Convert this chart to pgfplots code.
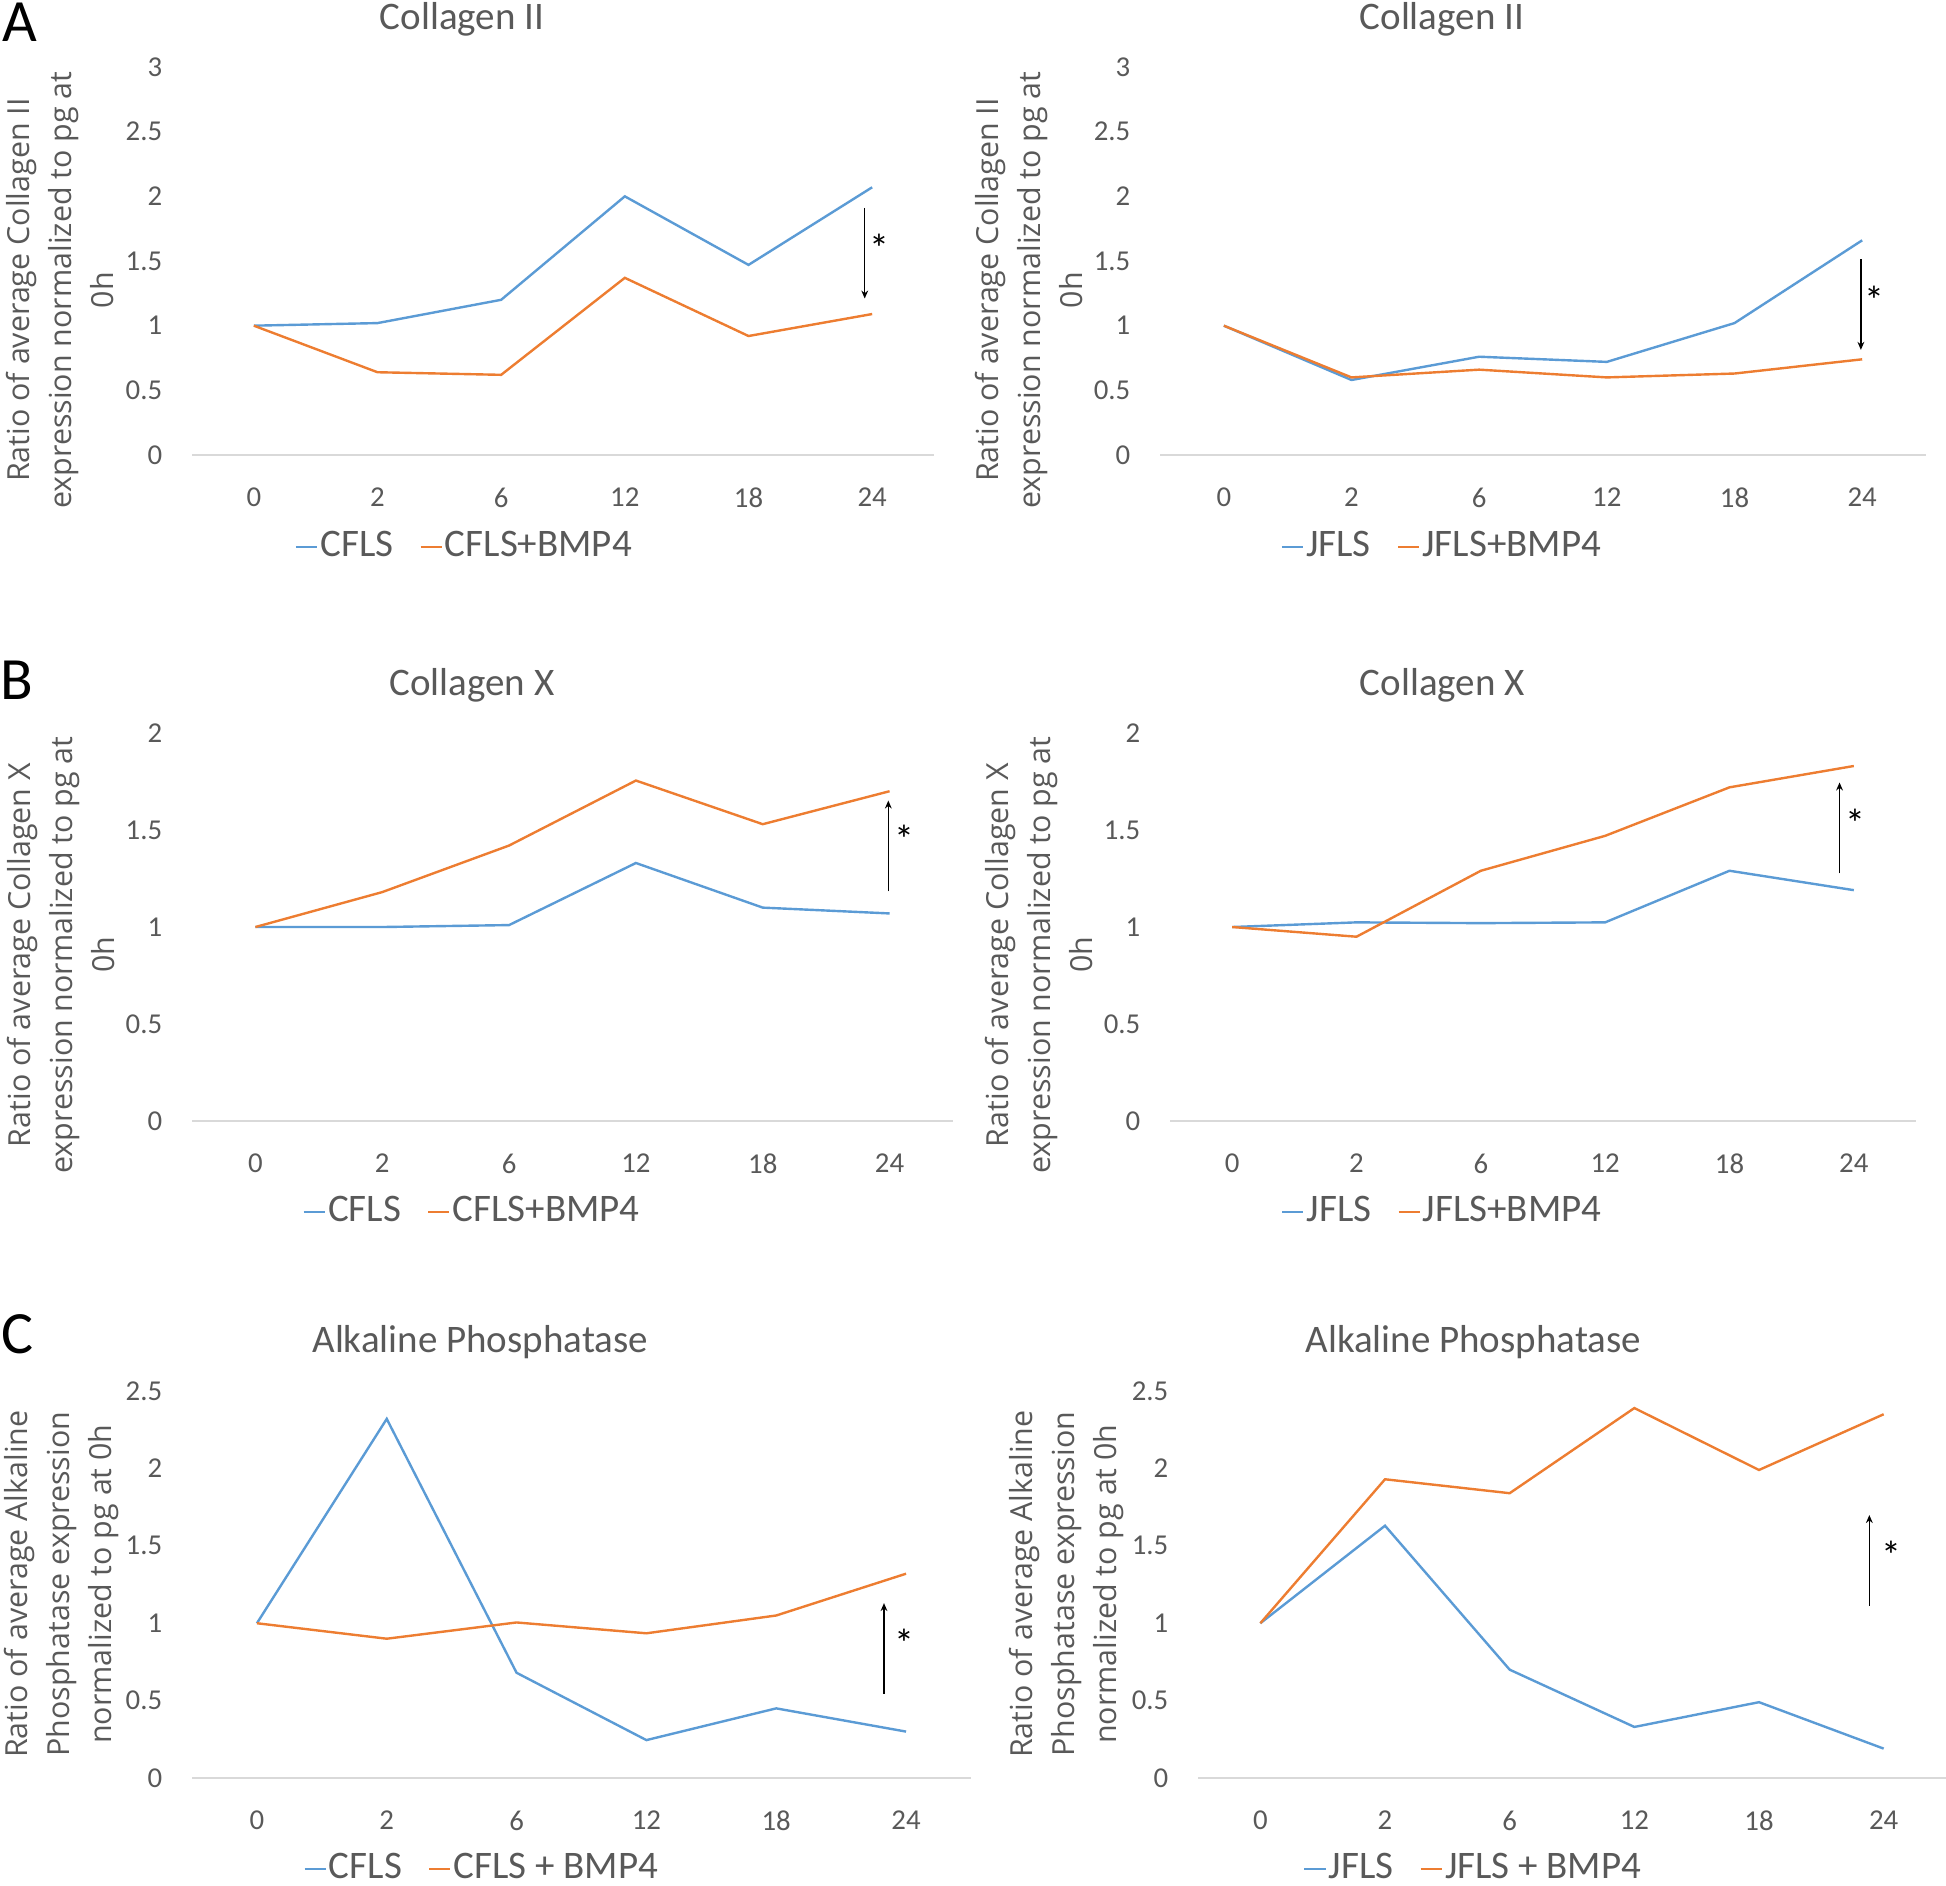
\documentclass[border=0pt]{standalone}
\usepackage{fontspec}
\setmainfont{Carlito}
\newfontfamily\opensans{Open Sans}
\usepackage{pgfplots}
\pgfplotsset{compat=1.18}
\usetikzlibrary{arrows.meta}

\definecolor{xlblue}{HTML}{5B9BD5}
\definecolor{xlorange}{HTML}{ED7D31}
\definecolor{xltext}{HTML}{595959}
\definecolor{xlaxis}{HTML}{D9D9D9}

\tikzset{sig/.style={line width=0.33pt, -{Stealth[length=2pt, width=1.7pt]}}}

\pgfplotsset{
  every axis title/.style={font=\fontsize{9.75}{11}\selectfont, text=xltext, anchor=center},
  panel/.style={
    anchor=south west, scale only axis, clip=false,
    xmin=-0.5, xmax=5.5, ymin=0,
    xtick={0,...,5}, xticklabels={0,2,6,12,18,24},
    ytick distance=0.5,
    axis lines*=left,
    y axis line style={draw=none},
    x axis line style={draw=xlaxis, line width=0.35pt},
    major tick length=0pt,
    /pgf/number format/assume math mode=true,
    tick label style={font=\fontsize{7.2}{8}\selectfont, text=xltext},
    yticklabel style={anchor=east, inner sep=0pt, xshift=-7.25pt},
    xticklabel style={anchor=north, inner sep=0pt, yshift=-8pt},
    ylabel style={font=\opensans\fontsize{7.6}{10.5}\selectfont, text=xltext, align=center, anchor=center},
    legend style={draw=none, fill=none, anchor=center, legend columns=2,
      font=\fontsize{9.75}{11}\selectfont, text=xltext,
      nodes={inner xsep=0.5pt, inner ysep=1pt},
      /tikz/every even column/.append style={column sep=6pt}},
    legend image code/.code={\draw[#1] (0pt,0pt) -- (5.3pt,0pt);},
    every axis plot/.append style={line width=0.6pt, mark=none},
  },
}
\newcommand{\sigstar}[2]{\node[font=\fontsize{10}{10}\selectfont, inner sep=0pt] at (axis cs:#1,#2) {*};}

\begin{document}
\begin{tikzpicture}
\path[use as bounding box] (0pt,0pt) rectangle (486.5pt,-471.25pt);

\node[font=\fontsize{15}{16}\selectfont, inner sep=0pt] at (5pt,-5.5pt) {A};
\node[font=\fontsize{15}{16}\selectfont, inner sep=0pt] at (4.25pt,-170pt) {B};
\node[font=\fontsize{15}{16}\selectfont, inner sep=0pt] at (4.25pt,-333.5pt) {C};

% A left
\begin{axis}[panel, at={(48pt,-113.75pt)}, width=185.5pt, height=97pt, ymax=3,
  title={Collagen II}, title style={at={(axis description cs:0.364,1.124)}},
  ylabel={Ratio of average Collagen II\\expression normalized to pg at\\0h},
  ylabel style={at={(axis description cs:-0.178,0.425)}},
  legend style={at={(axis description cs:0.367,-0.237)}}]
\addplot[xlblue] coordinates {(0,1) (1,1.02) (2,1.20) (3,2.00) (4,1.47) (5,2.07)};
\addplot[xlorange] coordinates {(0,1) (1,0.64) (2,0.62) (3,1.37) (4,0.92) (5,1.09)};
\legend{CFLS, CFLS+BMP4}
\draw[sig] (axis cs:4.94,1.91) -- (axis cs:4.94,1.21);
\sigstar{5.055}{1.60}
\end{axis}

% A right
\begin{axis}[panel, at={(290pt,-113.75pt)}, width=191.5pt, height=97pt, ymax=3,
  title={Collagen II}, title style={at={(axis description cs:0.368,1.124)}},
  ylabel={Ratio of average Collagen II\\expression normalized to pg at\\0h},
  ylabel style={at={(axis description cs:-0.171,0.425)}},
  legend style={at={(axis description cs:0.368,-0.237)}}]
\addplot[xlblue] coordinates {(0,1) (1,0.58) (2,0.76) (3,0.72) (4,1.02) (5,1.66)};
\addplot[xlorange] coordinates {(0,1) (1,0.60) (2,0.66) (3,0.60) (4,0.63) (5,0.74)};
\legend{JFLS, JFLS+BMP4}
\draw[sig] (axis cs:4.99,1.513) -- (axis cs:4.99,0.813);
\sigstar{5.10}{1.20}
\end{axis}

% B left
\begin{axis}[panel, at={(48pt,-280.25pt)}, width=190.25pt, height=97pt, ymax=2,
  title={Collagen X}, title style={at={(axis description cs:0.368,1.124)}},
  ylabel={Ratio of average Collagen X\\expression normalized to pg at\\0h},
  ylabel style={at={(axis description cs:-0.172,0.428)}},
  legend style={at={(axis description cs:0.368,-0.235)}}]
\addplot[xlblue] coordinates {(0,1) (1,1.00) (2,1.01) (3,1.33) (4,1.10) (5,1.07)};
\addplot[xlorange] coordinates {(0,1) (1,1.18) (2,1.42) (3,1.755) (4,1.53) (5,1.70)};
\legend{CFLS, CFLS+BMP4}
\draw[sig] (axis cs:4.99,1.184) -- (axis cs:4.99,1.652);
\sigstar{5.12}{1.45}
\end{axis}

% B right
\begin{axis}[panel, at={(292.5pt,-280.25pt)}, width=186.5pt, height=97pt, ymax=2,
  title={Collagen X}, title style={at={(axis description cs:0.365,1.124)}},
  ylabel={Ratio of average Collagen X\\expression normalized to pg at\\0h},
  ylabel style={at={(axis description cs:-0.176,0.428)}},
  legend style={at={(axis description cs:0.365,-0.235)}}]
\addplot[xlblue] coordinates {(0,1) (1,1.024) (2,1.02) (3,1.024) (4,1.29) (5,1.19)};
\addplot[xlorange] coordinates {(0,1) (1,0.95) (2,1.29) (3,1.47) (4,1.72) (5,1.83)};
\legend{JFLS, JFLS+BMP4}
\draw[sig] (axis cs:4.885,1.277) -- (axis cs:4.885,1.745);
\sigstar{5.01}{1.534}
\end{axis}

% C left
\begin{axis}[panel, at={(48pt,-444.5pt)}, width=194.75pt, height=96.75pt, ymax=2.5,
  title={Alkaline Phosphatase}, title style={at={(axis description cs:0.370,1.127)}},
  ylabel={Ratio of average Alkaline\\Phosphatase expression\\normalized to pg at 0h},
  ylabel style={at={(axis description cs:-0.168,0.501)}},
  legend style={at={(axis description cs:0.372,-0.235)}}]
\addplot[xlblue] coordinates {(0,1) (1,2.32) (2,0.68) (3,0.245) (4,0.45) (5,0.30)};
\addplot[xlorange] coordinates {(0,1) (1,0.90) (2,1.005) (3,0.935) (4,1.05) (5,1.32)};
\legend{CFLS, CFLS + BMP4}
\draw[sig] (axis cs:4.83,0.545) -- (axis cs:4.83,1.13);
\sigstar{4.99}{0.87}
\end{axis}

% C right
\begin{axis}[panel, at={(299.5pt,-444.5pt)}, width=187pt, height=96.75pt, ymax=2.5,
  title={Alkaline Phosphatase}, title style={at={(axis description cs:0.368,1.127)}},
  ylabel={Ratio of average Alkaline\\Phosphatase expression\\normalized to pg at 0h},
  ylabel style={at={(axis description cs:-0.176,0.501)}},
  legend style={at={(axis description cs:0.368,-0.235)}}]
\addplot[xlblue] coordinates {(0,1) (1,1.63) (2,0.70) (3,0.33) (4,0.49) (5,0.19)};
\addplot[xlorange] coordinates {(0,1) (1,1.93) (2,1.84) (3,2.39) (4,1.99) (5,2.35)};
\legend{JFLS, JFLS + BMP4}
\draw[sig] (axis cs:4.885,1.112) -- (axis cs:4.885,1.699);
\sigstar{5.06}{1.437}
\end{axis}
\end{tikzpicture}
\end{document}
